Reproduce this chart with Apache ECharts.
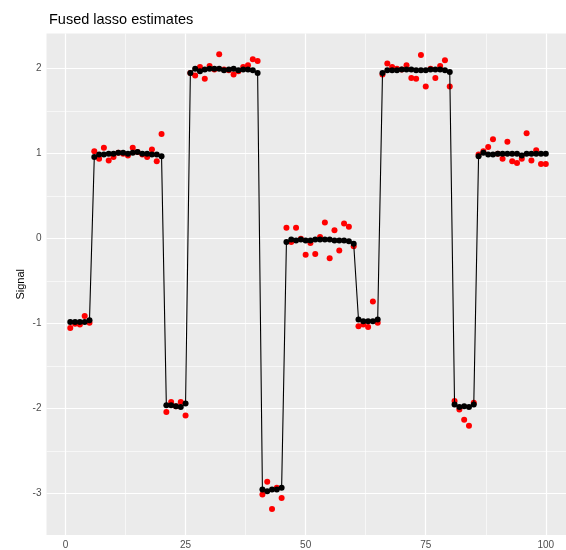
<!DOCTYPE html>
<html>
<head>
<meta charset="utf-8">
<script src="https://cdn.jsdelivr.net/npm/echarts@6/dist/echarts.min.js"></script>
<style>html,body{margin:0;padding:0;background:#fff}#c{width:566px;height:550px}</style>
</head>
<body>
<div id="c"></div>
<script>
// Observed (noisy) signal, index 1..100
const observed = [
  -1.05, -1.00, -1.01, -0.91, -0.99,
  1.03, 0.94, 1.07, 0.92, 0.96, 1.01, 1.00, 0.98, 1.07, 1.02, 0.99, 0.96, 1.05, 0.91, 1.23,
  -2.04, -1.92, -1.97, -1.92, -2.08,
  1.95, 1.92, 2.02, 1.88, 2.03, 1.99, 2.17, 1.99, 1.98, 1.93, 1.97, 2.02, 2.04, 2.11, 2.09,
  -3.01, -2.86, -3.18, -2.93, -3.05,
  0.13, -0.04, 0.13, 0.00, -0.19, -0.05, -0.18, 0.02, 0.19, -0.23, 0.10, -0.14, 0.18, 0.14, -0.09,
  -1.03, -1.01, -1.04, -0.74, -0.99,
  1.93, 2.06, 2.02, 2.00, 1.99, 2.04, 1.89, 1.88, 2.16, 1.79, 2.00, 1.89, 2.03, 2.10, 1.79,
  -1.91, -2.01, -2.13, -2.20, -1.93,
  0.99, 1.03, 1.08, 1.17, 1.00, 0.94, 1.14, 0.91, 0.89, 0.94, 1.24, 0.92, 1.04, 0.88, 0.88
];
// Fused lasso estimates
const fitted = [
  -0.98, -0.98, -0.98, -0.98, -0.96,
  0.96, 0.99, 0.99, 1.00, 1.00, 1.01, 1.01, 1.00, 1.01, 1.02, 1.00, 1.00, 0.99, 0.99, 0.97,
  -1.96, -1.96, -1.97, -1.98, -1.94,
  1.95, 2.00, 1.97, 1.99, 2.00, 2.00, 2.00, 1.98, 1.99, 2.00, 1.98, 1.99, 1.99, 1.98, 1.95,
  -2.95, -2.97, -2.95, -2.95, -2.93,
  -0.04, -0.01, -0.02, -0.01, -0.02, -0.02, -0.01, -0.01, -0.01, -0.01, -0.02, -0.02, -0.02, -0.03, -0.06,
  -0.95, -0.97, -0.97, -0.97, -0.95,
  1.95, 1.98, 1.98, 1.98, 1.99, 1.99, 1.99, 1.98, 1.98, 1.98, 1.99, 1.99, 1.99, 1.98, 1.96,
  -1.95, -1.98, -1.97, -1.98, -1.95,
  0.97, 1.01, 0.99, 0.99, 1.00, 1.00, 1.00, 1.00, 1.00, 0.98, 1.00, 1.00, 1.00, 1.00, 1.00
];
const xTicks = [0, 25, 50, 75, 100];
const xMinor = [12.5, 37.5, 62.5, 87.5];
const yTicks = [-3, -2, -1, 0, 1, 2];
const yMinor = [-2.5, -1.5, -0.5, 0.5, 1.5];

const obsData = observed.map((v, i) => [i + 1, v]);
const fitData = fitted.map((v, i) => [i + 1, v]);

const gridLines = [];
xMinor.forEach(v => gridLines.push({xAxis: v, lineStyle: {width: 0.6}}));
yMinor.forEach(v => gridLines.push({yAxis: v, lineStyle: {width: 0.6}}));
xTicks.forEach(v => gridLines.push({xAxis: v, lineStyle: {width: 1.2}}));
yTicks.forEach(v => gridLines.push({yAxis: v, lineStyle: {width: 1.2}}));

const chart = echarts.init(document.getElementById('c'), null, {renderer: 'canvas'});
const font = 'Liberation Sans, Arial, sans-serif';
chart.setOption({
  animation: false,
  title: {
    text: 'Fused lasso estimates',
    left: 44, top: 7,
    textStyle: {fontFamily: font, fontSize: 14.5, fontWeight: 'normal', color: '#000'}
  },
  grid: {
    left: 46.5, right: 0, top: 33.6, bottom: 10.3,
    show: true, backgroundColor: '#EBEBEB', borderWidth: 0
  },
  xAxis: {
    type: 'value', min: -3.95, max: 104.2,
    axisLine: {show: false},
    splitLine: {show: false},
    axisTick: {show: true, length: 3.7, customValues: xTicks, lineStyle: {color: '#333333', width: 1}},
    axisLabel: {customValues: xTicks, margin: 5, color: '#4D4D4D', fontFamily: font, fontSize: 10}
  },
  yAxis: {
    type: 'value', min: -3.486, max: 2.4126,
    name: 'Signal', nameLocation: 'middle', nameGap: 20, nameRotate: 90,
    nameMoveOverlap: false,
    nameTextStyle: {fontFamily: font, fontSize: 11, color: '#000'},
    axisLine: {show: false},
    splitLine: {show: false},
    axisTick: {show: true, length: 3.7, customValues: yTicks, lineStyle: {color: '#333333', width: 1}},
    axisLabel: {customValues: yTicks, margin: 5, color: '#4D4D4D', fontFamily: font, fontSize: 10}
  },
  series: [
    {
      type: 'scatter', name: 'grid', data: [], silent: true, z: 1,
      markLine: {
        z: 1, silent: true, symbol: ['none', 'none'], animation: false,
        label: {show: false},
        lineStyle: {color: '#FFFFFF', type: 'solid', opacity: 1},
        emphasis: {disabled: true},
        data: gridLines
      }
    },
    {
      type: 'scatter', name: 'observed', data: obsData, z: 3,
      symbol: 'circle', symbolSize: 6,
      itemStyle: {color: '#FF0000', opacity: 1}
    },
    {
      type: 'line', name: 'fitted', data: fitData, z: 4,
      symbol: 'circle', symbolSize: 6, showSymbol: true,
      lineStyle: {color: '#000000', width: 1.1},
      itemStyle: {color: '#000000', borderWidth: 0, opacity: 1}
    }
  ]
});
</script>
</body>
</html>
